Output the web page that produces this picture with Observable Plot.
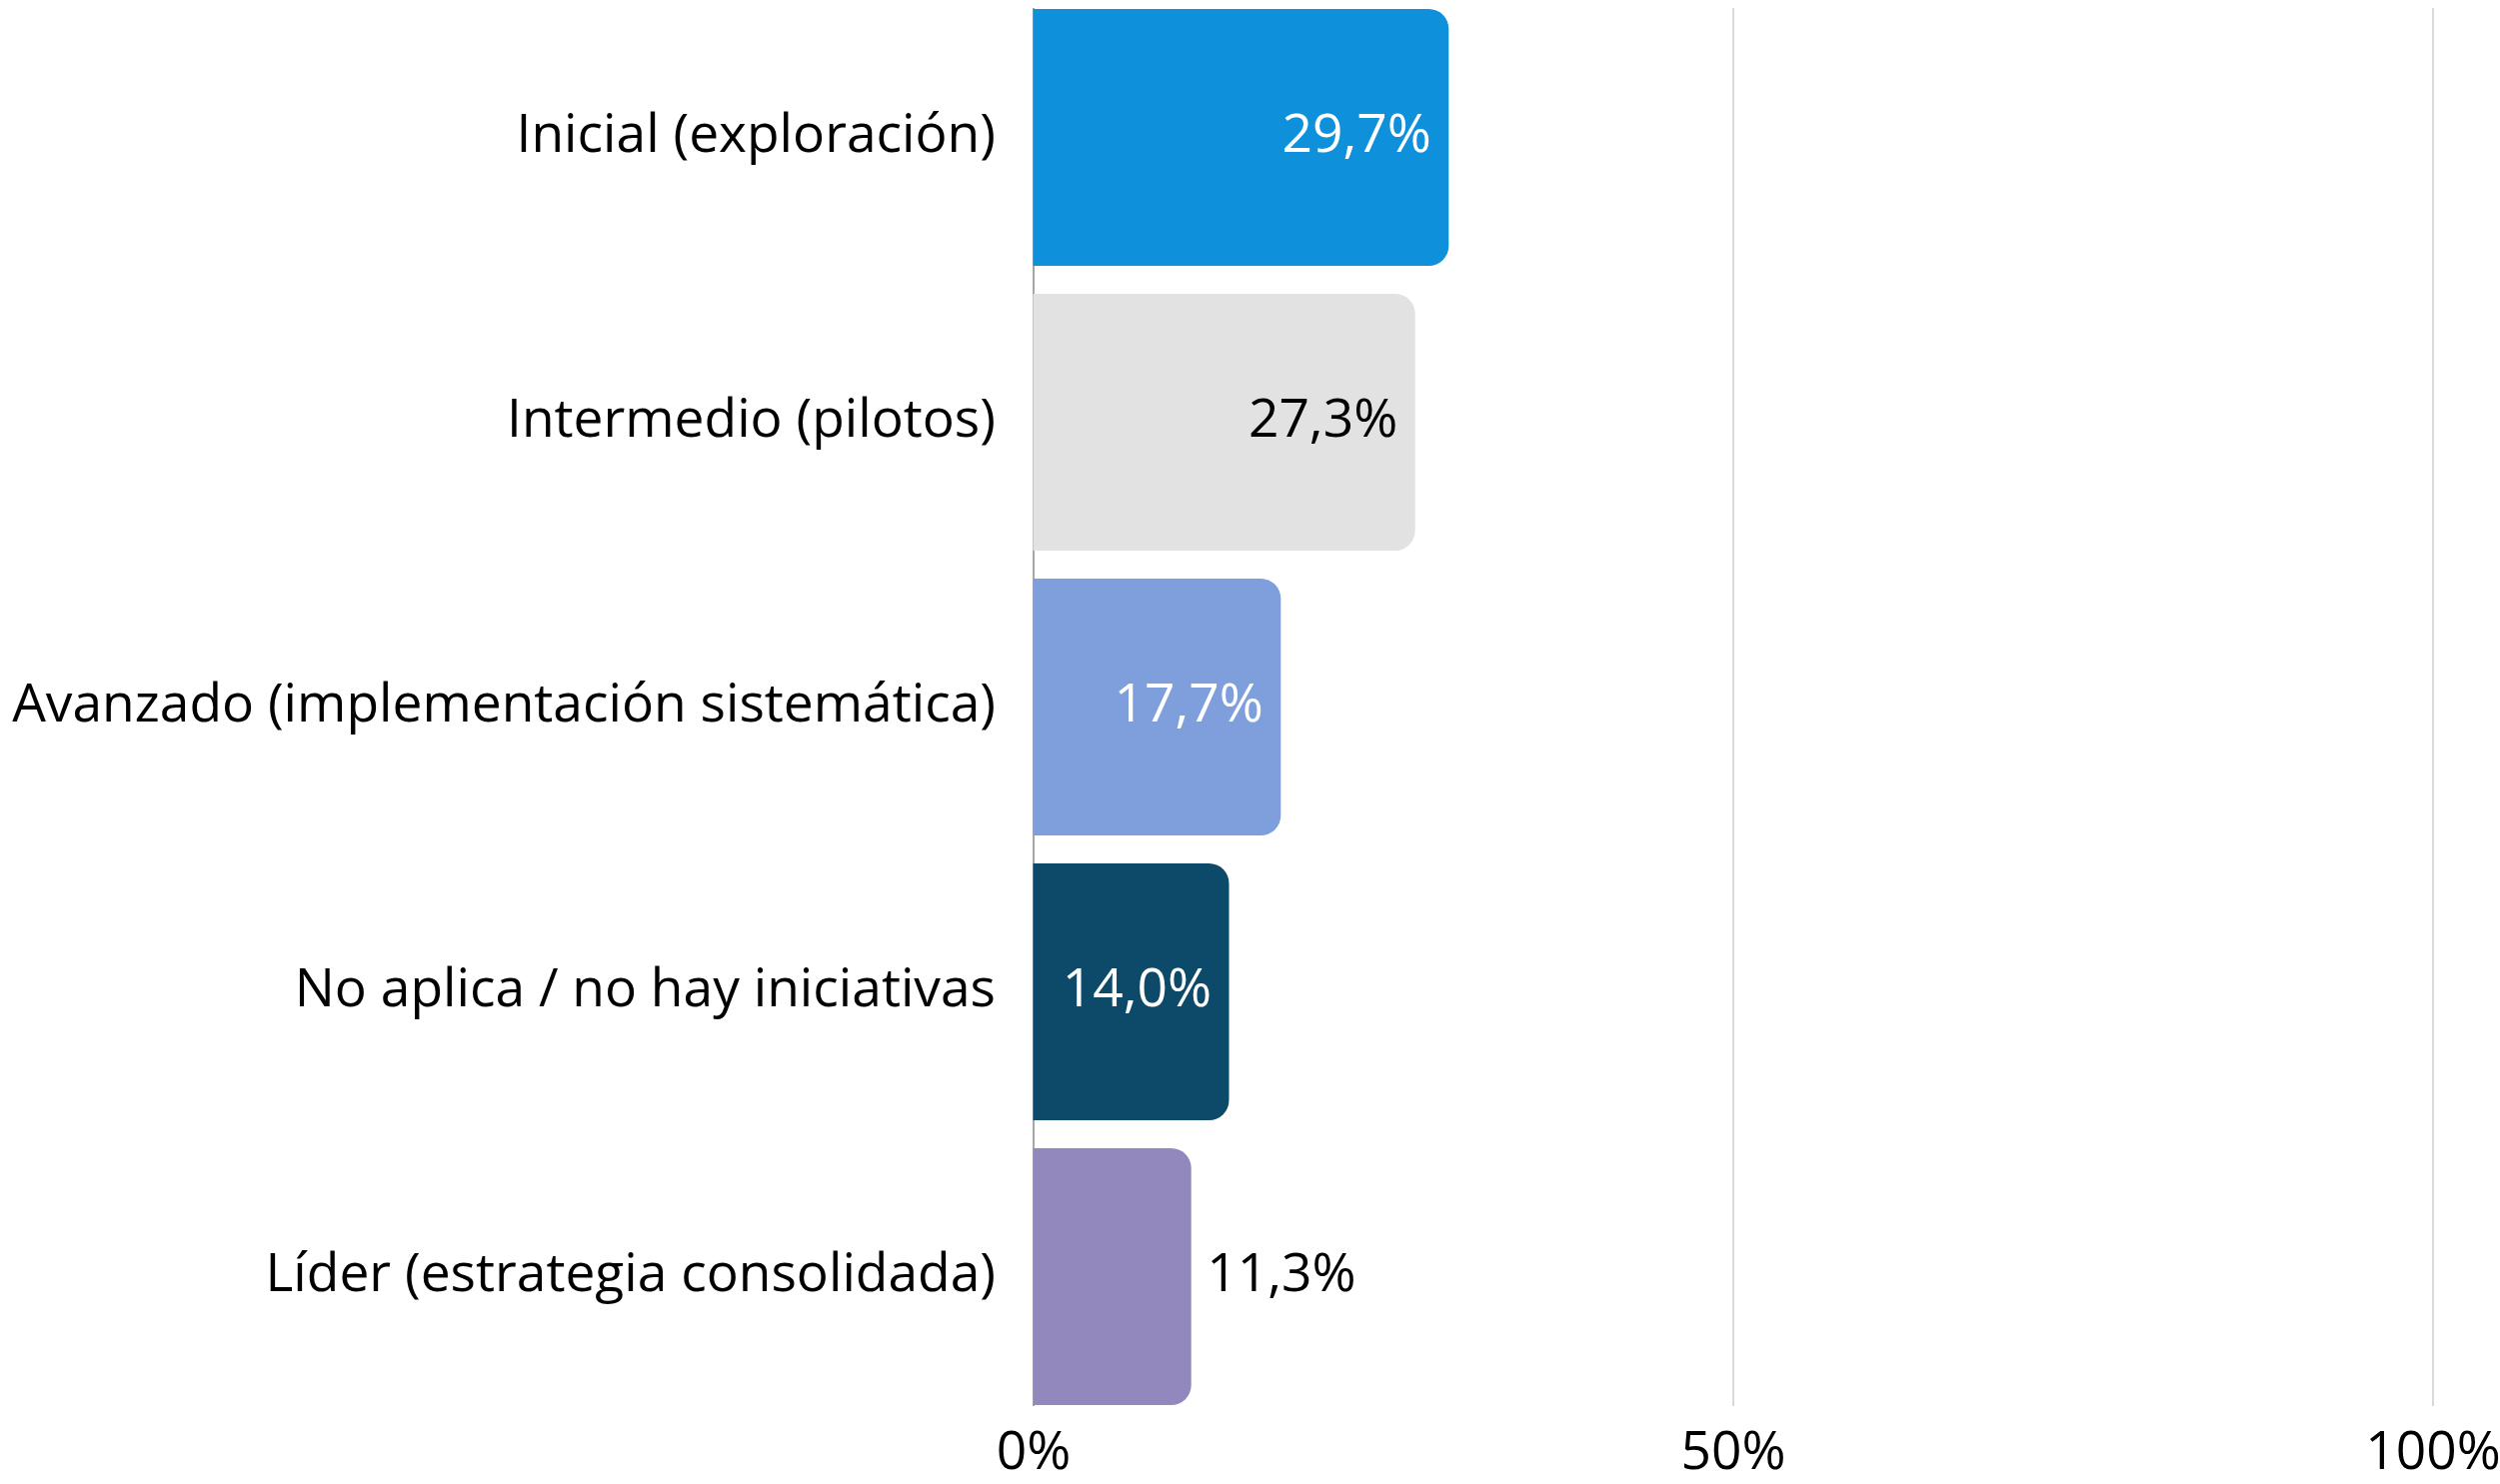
<!DOCTYPE html>
<html>
<head>
<meta charset="utf-8">
<script src="https://cdn.jsdelivr.net/npm/d3@7"></script>
<script src="https://cdn.jsdelivr.net/npm/@observablehq/plot@0.6"></script>
<style>
  html, body { margin: 0; padding: 0; background: #fff; }
  #chart svg { display: block; font-family: "Open Sans", sans-serif; }
</style>
</head>
<body>
<div id="chart"></div>
<script>
const categories = [
  "Inicial (exploración)",
  "Intermedio (pilotos)",
  "Avanzado (implementación sistemática)",
  "No aplica / no hay iniciativas",
  "Líder (estrategia consolidada)"
];
const values = [29.7, 27.3, 17.7, 14.0, 11.3];
const barColors = ["#0f90da", "#e2e2e2", "#7e9fdb", "#0d4a69", "#9388be"];
const labelColors = ["#ffffff", "#000000", "#ffffff", "#ffffff", "#000000"];
const labelInside = [true, true, true, true, false];
const xTicks = [0, 50, 100];

const data = categories.map((c, i) => ({
  category: c,
  value: values[i],
  color: barColors[i],
  labelColor: labelColors[i],
  inside: labelInside[i],
  label: values[i].toFixed(1).replace(".", ",") + "%"
}));

const FS = 53.3;

const chart = Plot.plot({
  width: 2501,
  height: 1485,
  marginLeft: 1033.5,
  marginRight: 67.5,
  marginTop: 8,
  marginBottom: 78,
  style: { fontFamily: "Open Sans, sans-serif", fontSize: FS + "px", color: "#000", background: "#fff" },
  x: { domain: [0, 100], label: null },
  y: { domain: categories, label: null, paddingInner: 0.1, paddingOuter: 0 },
  marks: [
    Plot.ruleX(xTicks.filter(d => d > 0), { stroke: "#cccccc", strokeWidth: 1.5 }),
    Plot.ruleX([0], { stroke: "#888888", strokeWidth: 1.5 }),
    Plot.barX(data, { x: "value", y: "category", fill: d => d.color, rx2: 20 }),
    Plot.text(data.filter(d => d.inside), {
      x: "value", y: "category", text: "label", fill: d => d.labelColor,
      textAnchor: "end", dx: -18, dy: -3, fontSize: FS
    }),
    Plot.text(data.filter(d => !d.inside), {
      x: "value", y: "category", text: "label", fill: d => d.labelColor,
      textAnchor: "start", dx: 15, dy: -3, fontSize: FS
    }),
    Plot.axisX({ ticks: xTicks, tickFormat: d => d + "%", tickSize: 0, tickPadding: 25, fontSize: FS, label: null }),
    Plot.axisY({ tickSize: 0, tickPadding: 38, fontSize: FS, dy: -3, label: null })
  ]
});
document.getElementById("chart").appendChild(chart);
</script>
</body>
</html>
